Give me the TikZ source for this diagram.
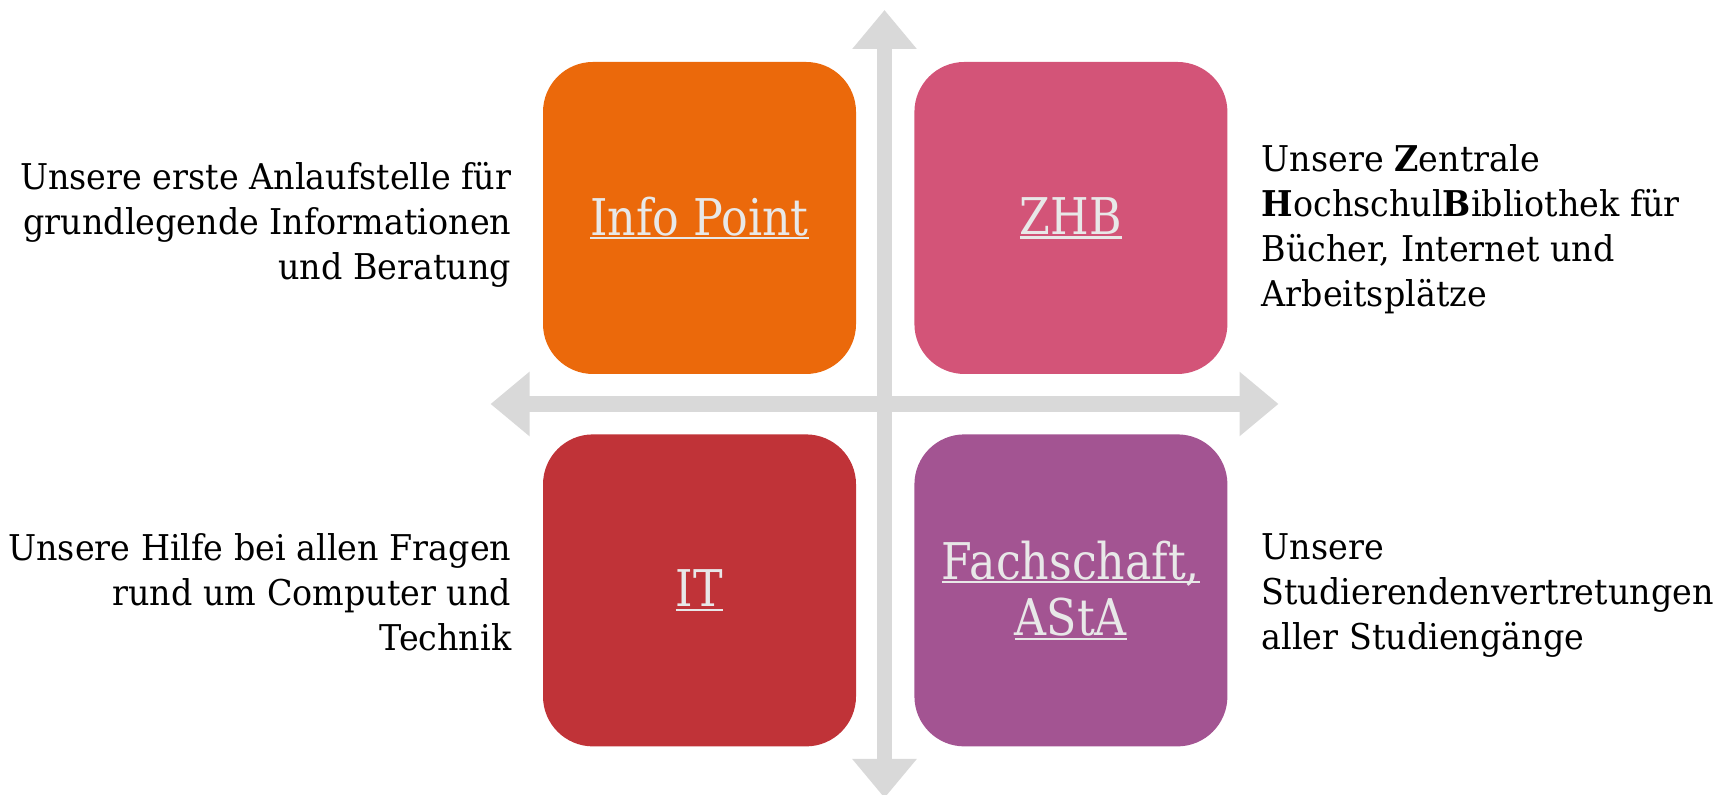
\documentclass[tikz,border=0pt]{standalone}
\usepackage{fontspec}
\setmainfont{DejaVu Serif}[FakeStretch=0.94]
\newfontfamily\boxfont{DejaVu Serif}[FakeStretch=0.875]
\usetikzlibrary{arrows.meta, positioning}
\definecolor{infoorange}{RGB}{235,105,11}
\definecolor{zhbpink}{RGB}{211,84,120}
\definecolor{itred}{RGB}{192,51,56}
\definecolor{astapurple}{RGB}{163,84,146}
\definecolor{axisgray}{RGB}{217,217,217}
\definecolor{boxtext}{RGB}{232,232,232}
\newcommand{\boxul}[1]{\setbox0\hbox{#1}\rlap{\rule[-1.2pt]{\wd0}{0.6pt}}\box0}

\begin{document}
\begin{tikzpicture}[
    box/.style={rectangle, rounded corners=0.5cm, minimum width=3.13cm, minimum height=3.12cm, inner sep=0pt, text=boxtext, align=center, font=\boxfont\fontsize{14.4}{16.2}\selectfont},
    desc/.style={inner sep=0pt, font=\fontsize{10.1}{12.8}\selectfont},
    axis/.style={draw=axisgray, line width=0.155cm, {Triangle[length=0.39cm, width=0.62cm]}-{Triangle[length=0.39cm, width=0.62cm]}}
]
\useasboundingbox (0,0) rectangle (17.27,7.95);

\coordinate (leftEnd) at (4.905,3.91);
\coordinate (rightEnd) at (12.785,3.91);
\coordinate (topEnd) at (8.845,7.85);
\coordinate (bottomEnd) at (8.845,-0.03);
\draw[axis] (leftEnd) -- (rightEnd);
\draw[axis] (bottomEnd) -- (topEnd);

\node[box, fill=infoorange] (infoPoint) at (6.995,5.77) {\boxul{Info Point}};
\node[box, fill=zhbpink, right=0.57cm of infoPoint] (zhb) {\boxul{ZHB}};
\node[box, fill=itred, below=0.59cm of infoPoint] (it) {\boxul{IT}};
\node[box, fill=astapurple, below=0.59cm of zhb] (fachschaft) {\boxul{Fachschaft,}\\\boxul{AStA}};

\node[desc, anchor=north east, align=right] (infoText) at (5.12,6.33) {Unsere erste Anlaufstelle für\\grundlegende Informationen\\und Beratung};
\node[desc, anchor=north west, align=left] (zhbText) at (12.61,6.51) {Unsere \textbf{Z}entrale\\\textbf{H}ochschul\textbf{B}ibliothek für\\Bücher, Internet und\\Arbeitsplätze};
\node[desc, anchor=north east, align=right] (itText) at (5.12,2.62) {Unsere Hilfe bei allen Fragen\\rund um Computer und\\Technik};
\node[desc, anchor=north west, align=left] (fachschaftText) at (12.61,2.62) {Unsere\\Studierendenvertretungen\\aller Studiengänge};

\end{tikzpicture}
\end{document}
